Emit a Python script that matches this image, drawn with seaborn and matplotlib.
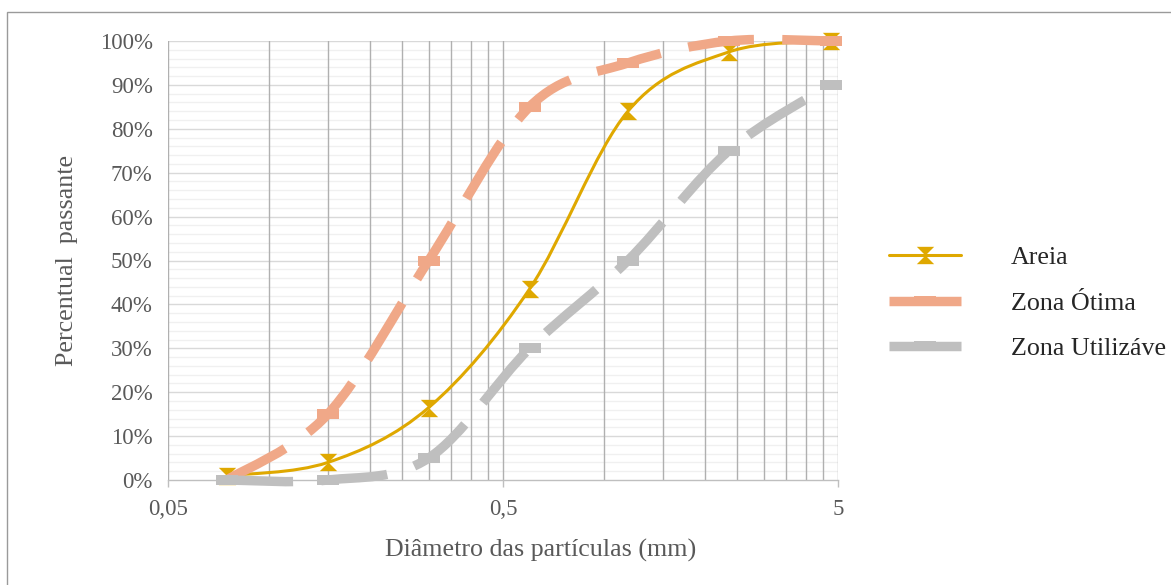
import numpy as np
import pandas as pd
import matplotlib
matplotlib.use("Agg")
import matplotlib.pyplot as plt
import seaborn as sns
from matplotlib.path import Path
from matplotlib.patches import PathPatch, Rectangle
from matplotlib.lines import Line2D
from matplotlib.ticker import FixedLocator, NullFormatter

# ---- data ----
sieve_mm = [0.075, 0.15, 0.3, 0.6, 1.18, 2.36, 4.75]
areia = [0.01, 0.04, 0.165, 0.435, 0.84, 0.975, 1.0]
zona_otima = [0.0, 0.15, 0.50, 0.85, 0.95, 1.0, 1.0]
zona_utilizavel = [0.0, 0.0, 0.05, 0.30, 0.50, 0.75, 0.90]
series_names = ["Areia", "Zona Ótima", "Zona Utilizáve"]
x_tick_values = [0.05, 0.5, 5]
x_tick_labels = ["0,05", "0,5", "5"]
y_tick_values = [0.0, 0.1, 0.2, 0.3, 0.4, 0.5, 0.6, 0.7, 0.8, 0.9, 1.0]
y_tick_labels = ["0%", "10%", "20%", "30%", "40%", "50%", "60%", "70%", "80%", "90%", "100%"]

# ---- style ----
sns.set_theme(style="white")
plt.rcParams["font.family"] = ["Liberation Serif", "DejaVu Serif"]
TXT = "#595959"
C_AREIA = "#DFA800"
C_OT = "#F0A888"
C_UT = "#BFBFBF"
TICK_FS = 16.5
TITLE_FS = 18.7

W, H = 1171, 585
fig = plt.figure(figsize=(W / 100, H / 100), dpi=100)
ax = fig.add_axes([168 / W, 1 - 480 / H, (838 - 168) / W, (480 - 41) / H])

# outer chart border (cropped at right/bottom in reference)
fig.patches.append(Rectangle((7 / W, -0.05), 1.2, 1 - 12 / H + 0.05,
                             transform=fig.transFigure, fill=False,
                             edgecolor="#9a9a9a", linewidth=1.0, zorder=0))

ax.set_xscale("log")
ax.set_xlim(0.05, 5)
ax.set_ylim(0, 1)

# grid
minor_x = [0.05 * k for k in range(2, 10)] + [0.5 * k for k in range(2, 10)]
ax.xaxis.set_minor_locator(FixedLocator(minor_x))
ax.xaxis.set_minor_formatter(NullFormatter())
ax.set_xticks(x_tick_values)
ax.set_xticklabels(x_tick_labels)
ax.set_yticks(y_tick_values)
ax.set_yticklabels(y_tick_labels)
for v in x_tick_values + minor_x:
    ax.axvline(v, color="#b0b0b0", lw=1.0, zorder=0.5)
for v in y_tick_values[1:]:
    ax.axhline(v, color="#d9d9d9", lw=1.0, zorder=0.4)
for i in range(51):
    if i % 5:
        ax.axhline(i / 50, color="#f0f0f0", lw=1.0, zorder=0.3)

for s in ["top", "right", "left"]:
    ax.spines[s].set_visible(False)
ax.spines["bottom"].set_color("#bfbfbf")
ax.spines["bottom"].set_linewidth(1.0)
ax.tick_params(axis="x", which="major", length=5, width=1, color="#bfbfbf",
               labelsize=TICK_FS, labelcolor=TXT, pad=9, bottom=True)
ax.tick_params(axis="x", which="minor", length=0)
ax.tick_params(axis="y", which="both", length=0, labelsize=TICK_FS, labelcolor=TXT, pad=11)

# smooth (Excel-like) curves through the data points
SX, SY = 335.0, 439.0


def smooth_path(xs, ys):
    P = np.column_stack([np.log10(xs) * SX, np.asarray(ys) * SY])
    n = len(P)
    verts = [P[0]]
    codes = [Path.MOVETO]
    for i in range(n - 1):
        p0 = P[i - 1] if i > 0 else P[i]
        p1, p2 = P[i], P[i + 1]
        p3 = P[i + 2] if i + 2 < n else P[i + 1]
        c1 = p1 + (p2 - p0) / 6.0
        c2 = p2 - (p3 - p1) / 6.0
        verts += [c1, c2, p2]
        codes += [Path.CURVE4] * 3
    V = np.array(verts)
    V = np.column_stack([10 ** (V[:, 0] / SX), V[:, 1] / SY])
    return Path(V, codes)


hourglass = Path([(-1, 1), (1, 1), (0, 0), (-1, -1), (1, -1), (0, 0), (-1, 1)],
                 [Path.MOVETO, Path.LINETO, Path.LINETO, Path.LINETO, Path.LINETO,
                  Path.LINETO, Path.CLOSEPOLY])
dash_mk = Path([(-1, -0.45), (1, -0.45), (1, 0.45), (-1, 0.45), (-1, -0.45)],
               [Path.MOVETO, Path.LINETO, Path.LINETO, Path.LINETO, Path.CLOSEPOLY])

df = pd.DataFrame({"d": sieve_mm, "Areia": areia,
                   "Zona Ótima": zona_otima, "Zona Utilizáve": zona_utilizavel})

LW_Z = 6.8
# Areia
ax.add_patch(PathPatch(smooth_path(sieve_mm, areia), fill=False, edgecolor=C_AREIA,
                       linewidth=2.2, zorder=3, clip_on=False))
sns.scatterplot(data=df, x="d", y="Areia", marker=hourglass, s=12.5 ** 2,
                color=C_AREIA, linewidth=0, ax=ax, zorder=3.1, clip_on=False)
# Zona Ótima
pp = PathPatch(smooth_path(sieve_mm, zona_otima), fill=False, edgecolor=C_OT,
               linewidth=LW_Z, linestyle=(0, (7, 3)), zorder=4, clip_on=False)
pp.set_capstyle("butt")
ax.add_patch(pp)
sns.scatterplot(data=df, x="d", y="Zona Ótima", marker=dash_mk, s=16.5 ** 2,
                color=C_OT, linewidth=0, ax=ax, zorder=4.1, clip_on=False)
# Zona Utilizável
pu = PathPatch(smooth_path(sieve_mm, zona_utilizavel), fill=False, edgecolor=C_UT,
               linewidth=LW_Z, linestyle=(0, (7, 3)), zorder=5, clip_on=False)
pu.set_capstyle("butt")
ax.add_patch(pu)
sns.scatterplot(data=df, x="d", y="Zona Utilizáve", marker=dash_mk, s=16.5 ** 2,
                color=C_UT, linewidth=0, ax=ax, zorder=5.1, clip_on=False)

ax.set_xlabel("Diâmetro das partículas (mm)", fontsize=TITLE_FS, color=TXT, labelpad=13)
ax.xaxis.label.set_x((541 - 168) / 670)
ax.set_ylabel("Percentual  passante", fontsize=TITLE_FS, color=TXT, labelpad=16)
if ax.get_legend() is not None:
    ax.get_legend().remove()

handles = [
    Line2D([], [], color=C_AREIA, lw=2.2, marker=hourglass, markersize=12.5, markeredgewidth=0),
    Line2D([], [], color=C_OT, lw=LW_Z, marker=dash_mk, markersize=16.5, markeredgewidth=0,
           solid_capstyle="butt"),
    Line2D([], [], color=C_UT, lw=LW_Z, marker=dash_mk, markersize=16.5, markeredgewidth=0,
           solid_capstyle="butt"),
]
fig.legend(handles, series_names, loc="upper left",
           bbox_to_anchor=(889 / W, 1 - 246 / H), frameon=False,
           handlelength=2.77, handletextpad=1.92, labelspacing=0.86,
           borderpad=0, borderaxespad=0, prop={"family": ["Liberation Serif"], "size": TITLE_FS})

fig.savefig("out.png", dpi=100)
